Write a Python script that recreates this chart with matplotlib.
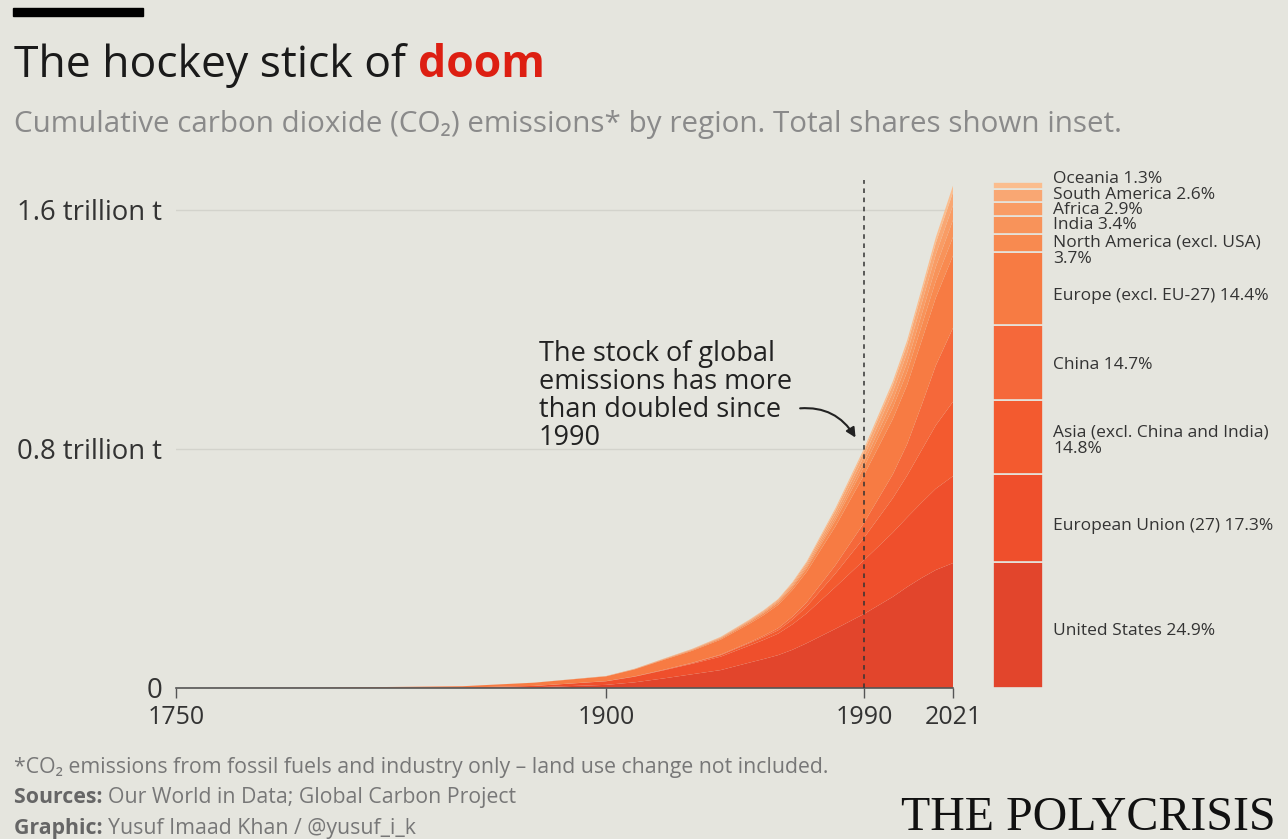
import matplotlib
matplotlib.use('Agg')
import matplotlib.pyplot as plt

plt.rcParams['font.family'] = ['Open Sans', 'DejaVu Sans']

# cumulative CO2 by region, billion t
years = [1750, 1800, 1850, 1875, 1900, 1910, 1920, 1930, 1940, 1950, 1955,
         1960, 1965, 1970, 1980, 1990, 2000, 2005, 2010, 2015, 2021]
us = [0, 0, 0.4, 2.5, 10.5, 19, 32, 46, 60, 85, 97, 110, 128, 150, 198, 248, 305, 338, 368, 395, 418]
eu = [0, 0.1, 1.2, 4.5, 12, 19, 27, 35, 45, 57, 64, 72, 85, 100, 140, 180, 215, 233, 252, 272, 291]
asia = [0, 0, 0, 0, 0.4, 0.8, 1.5, 2.5, 5, 8, 9.5, 11, 16, 23, 45, 75, 115, 140, 175, 212, 249]
china = [0, 0, 0, 0, 0.1, 0.2, 0.5, 1, 2, 3, 4.5, 7, 10, 14, 28, 50, 80, 105, 150, 200, 247]
europe = [0, 0.9, 4.4, 10.8, 16, 23.5, 33, 40, 50, 62, 69, 78, 89, 102, 130, 160, 185, 198, 215, 227, 242]
n_america = [0, 0, 0, 0.1, 0.4, 0.8, 1.5, 2.5, 3.5, 5, 6, 7, 9, 12, 20, 28, 38, 44, 50, 56, 62]
india = [0, 0, 0, 0.05, 0.3, 0.6, 1, 1.5, 2, 3, 3.5, 4, 5, 6, 10, 16, 25, 31, 38, 47, 57]
africa = [0, 0, 0, 0, 0.1, 0.2, 0.5, 1, 1.5, 2, 2.5, 3, 4, 6, 12, 19, 27, 32, 37, 42, 49]
s_america = [0, 0, 0, 0, 0.1, 0.2, 0.5, 1, 1.5, 2.5, 3, 4, 5.5, 7, 12, 17, 24, 28, 33, 38, 44]
oceania = [0, 0, 0, 0.05, 0.1, 0.2, 0.5, 0.5, 1, 1.5, 1.8, 2, 3, 4, 7, 9, 12, 14, 16, 19, 22]

# inset shares, %
share_labels = ['United States 24.9%', 'European Union (27) 17.3%',
                'Asia (excl. China and India)\n14.8%', 'China 14.7%',
                'Europe (excl. EU-27) 14.4%', 'North America (excl. USA)\n3.7%',
                'India 3.4%', 'Africa 2.9%', 'South America 2.6%', 'Oceania 1.3%']
shares = [24.9, 17.3, 14.8, 14.7, 14.4, 3.7, 3.4, 2.9, 2.6, 1.3]

colors = ['#e2452c', '#ef4f2c', '#f35a2f', '#f5683a', '#f77b43',
          '#f88a50', '#f8935a', '#f99c65', '#f9a773', '#fbbd8e']
bg = '#e5e5de'

fig = plt.figure(figsize=(12.88, 8.39), dpi=100)
fig.patch.set_facecolor(bg)
W, H = 1288, 839


def fx(px):
    return px / W


def fy(py):
    return 1 - py / H


def text_after(prev, txt, **kw):
    # put txt right after an existing text object
    fig.canvas.draw()
    bb = prev.get_window_extent()
    x0, y0 = prev.get_position()
    return fig.text(bb.x1 / W, y0, txt, **kw)


# top black rule
fig.patches.append(plt.Rectangle((fx(13), fy(16)), fx(130), 8 / H, transform=fig.transFigure,
                                 color='black', zorder=5))

# title and subtitle
t = fig.text(fx(14), fy(77), 'The hockey stick of ', fontsize=32, color='#1a1a1a', va='baseline')
text_after(t, 'doom', fontsize=32, color='#dd1f12', fontweight='bold', va='baseline')
fig.text(fx(14), fy(132), 'Cumulative carbon dioxide (CO\u2082) emissions* by region. Total shares shown inset.',
         fontsize=21.3, color='#8a8a8a', va='baseline')

# main area chart
ax = fig.add_axes([fx(176), fy(688), fx(953) - fx(176), (688 - 174) / H])
ax.set_facecolor(bg)
stack = [[v / 1000 for v in s] for s in [us, eu, asia, china, europe, n_america, india,
                                          africa, s_america, oceania]]
ax.stackplot(years, stack, colors=colors, linewidth=0, zorder=2)
ax.set_xlim(1750, 2021)
ax.set_ylim(0, 1.72)
for s in ['top', 'right', 'left']:
    ax.spines[s].set_visible(False)
ax.spines['bottom'].set_color('#555555')
ax.spines['bottom'].set_linewidth(1.2)
ax.set_yticks([0, 0.8, 1.6])
ax.set_yticklabels(['0', '0.8 trillion t', '1.6 trillion t'])
ax.tick_params(axis='y', length=0, pad=10, labelsize=19.8, labelcolor='#333333')
ax.yaxis.grid(True, color='#d3d3cc', linewidth=1, zorder=0)
ax.set_axisbelow(True)
ax.set_xticks([1750, 1900, 1990, 2021])
ax.tick_params(axis='x', length=7, width=1, color='#555555', pad=5, labelsize=18,
               labelcolor='#333333')
ax.axvline(1990, ymin=0, ymax=(688 - 180) / (688 - 174), color='#333333',
           linestyle=(0, (3, 3)), linewidth=1.1, zorder=3)

ax.annotate('The stock of global\nemissions has more\nthan doubled since\n1990',
            xy=(1987.5, 0.83), xytext=(1876.5, 0.79), fontsize=19.5, color='#222222',
            linespacing=1.0, va='bottom', ha='left',
            arrowprops=dict(arrowstyle='-|>', color='#222222', lw=1.5,
                            connectionstyle='arc3,rad=-0.35', shrinkA=4, shrinkB=2,
                            mutation_scale=14, relpos=(1.0, 0.38)))

# inset share bar
bx = fig.add_axes([fx(993), fy(688), fx(1043) - fx(993), (688 - 182) / H])
bx.set_xlim(0, 1)
bx.set_ylim(0, 100)
bx.axis('off')
bottom = 0
for s, c in zip(shares, colors):
    bx.bar(0.5, s, width=1, bottom=bottom, color=c, edgecolor=bg, linewidth=1.2)
    bottom += s

# label positions (px), small slices stacked above
label_y = [631, 526, 441, 365, 296, 251, 225, 210, 195, 179]
for lab, py in zip(share_labels, label_y):
    fig.text(fx(1053), fy(py), lab, fontsize=12.5, color='#333333', va='center', ha='left',
             linespacing=1.05)

# footer
fs = 15.3
fig.text(fx(14), fy(773), '*CO\u2082 emissions from fossil fuels and industry only \u2013 land use change not included.',
         fontsize=fs, color='#777777', va='baseline')
s1 = fig.text(fx(14), fy(803), 'Sources: ', fontsize=fs, color='#666666', va='baseline', fontweight='bold')
text_after(s1, 'Our World in Data; Global Carbon Project', fontsize=fs, color='#777777', va='baseline')
s2 = fig.text(fx(14), fy(834), 'Graphic: ', fontsize=fs, color='#666666', va='baseline', fontweight='bold')
text_after(s2, 'Yusuf Imaad Khan / @yusuf_i_k', fontsize=fs, color='#777777', va='baseline')
fig.text(fx(1276), fy(818), 'THE POLYCRISIS', fontsize=34.5, color='#111111', va='center', ha='right',
         family=['Liberation Serif', 'DejaVu Serif'])

fig.savefig('out.png', dpi=100, facecolor=bg)
